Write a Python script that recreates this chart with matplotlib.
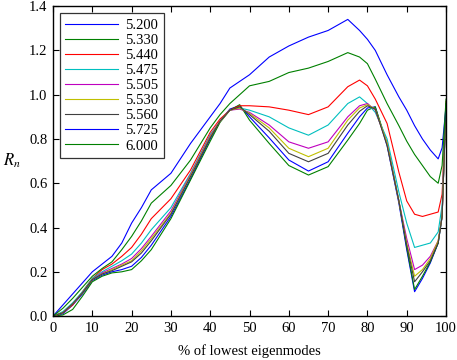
import matplotlib
matplotlib.use("Agg")
import matplotlib.pyplot as plt

plt.rcParams['font.family'] = ['Liberation Serif', 'DejaVu Serif']
plt.rcParams['mathtext.fontset'] = 'stix'

x = [0, 2.5, 5, 7.5, 10, 12.5, 15, 17.5, 20, 22.5, 25, 30, 35, 40, 42.5, 45, 47.5,
     50, 55, 60, 65, 70, 75, 78, 80, 82, 85, 88, 90, 92, 94, 96, 98, 99, 100]

labels = ["5.200", "5.330", "5.440", "5.475", "5.505", "5.530", "5.560", "5.725", "6.000"]

r_5200 = [0, 0.01, 0.05, 0.10, 0.16, 0.185, 0.20, 0.21, 0.225, 0.265, 0.32, 0.45, 0.62, 0.80, 0.88, 0.935, 0.95,
          0.90, 0.805, 0.705, 0.655, 0.697, 0.826, 0.90, 0.94, 0.945, 0.77, 0.51, 0.30, 0.11, 0.17, 0.24, 0.33, 0.45, 0.96]
r_5330 = [0, 0.005, 0.03, 0.09, 0.155, 0.18, 0.195, 0.20, 0.21, 0.25, 0.30, 0.44, 0.615, 0.79, 0.875, 0.93, 0.955,
          0.885, 0.78, 0.68, 0.637, 0.675, 0.795, 0.87, 0.93, 0.945, 0.78, 0.52, 0.31, 0.12, 0.18, 0.245, 0.33, 0.45, 0.95]
r_5440 = [0, 0.015, 0.05, 0.11, 0.17, 0.21, 0.235, 0.27, 0.31, 0.37, 0.44, 0.53, 0.66, 0.83, 0.89, 0.93, 0.95,
          0.95, 0.945, 0.93, 0.91, 0.945, 1.036, 1.066, 1.04, 0.98, 0.87, 0.65, 0.52, 0.46, 0.45, 0.46, 0.47, 0.55, 0.97]
r_5475 = [0, 0.02, 0.06, 0.11, 0.17, 0.20, 0.225, 0.25, 0.28, 0.33, 0.39, 0.49, 0.645, 0.82, 0.88, 0.93, 0.94,
          0.93, 0.90, 0.85, 0.817, 0.863, 0.96, 0.99, 0.96, 0.92, 0.80, 0.56, 0.42, 0.31, 0.32, 0.33, 0.38, 0.50, 0.96]
r_5505 = [0, 0.015, 0.055, 0.105, 0.165, 0.195, 0.215, 0.235, 0.26, 0.305, 0.36, 0.475, 0.64, 0.815, 0.88, 0.93, 0.935,
          0.92, 0.863, 0.787, 0.758, 0.787, 0.90, 0.95, 0.96, 0.93, 0.78, 0.52, 0.35, 0.21, 0.23, 0.27, 0.34, 0.45, 0.96]
r_5530 = [0, 0.015, 0.055, 0.105, 0.165, 0.19, 0.21, 0.23, 0.25, 0.295, 0.35, 0.465, 0.635, 0.81, 0.88, 0.93, 0.94,
          0.915, 0.85, 0.758, 0.72, 0.758, 0.885, 0.94, 0.955, 0.935, 0.78, 0.52, 0.33, 0.18, 0.21, 0.26, 0.34, 0.45, 0.96]
r_5560 = [0, 0.015, 0.055, 0.105, 0.165, 0.19, 0.205, 0.225, 0.245, 0.285, 0.34, 0.46, 0.63, 0.805, 0.88, 0.93, 0.945,
          0.91, 0.835, 0.735, 0.697, 0.735, 0.863, 0.925, 0.95, 0.935, 0.77, 0.52, 0.32, 0.155, 0.20, 0.25, 0.33, 0.45, 0.96]
r_5725 = [0, 0.05, 0.10, 0.15, 0.20, 0.235, 0.27, 0.33, 0.42, 0.49, 0.57, 0.645, 0.78, 0.90, 0.96, 1.03, 1.06,
          1.09, 1.17, 1.22, 1.26, 1.29, 1.34, 1.29, 1.25, 1.20, 1.09, 0.99, 0.93, 0.86, 0.80, 0.75, 0.71, 0.76, 0.95]
r_6000 = [0, 0.035, 0.08, 0.13, 0.18, 0.215, 0.245, 0.30, 0.36, 0.43, 0.51, 0.59, 0.705, 0.85, 0.91, 0.96, 1.00,
          1.04, 1.06, 1.10, 1.12, 1.15, 1.19, 1.17, 1.14, 1.07, 0.96, 0.86, 0.79, 0.73, 0.68, 0.63, 0.60, 0.68, 0.98]

series = [r_5200, r_5330, r_5440, r_5475, r_5505, r_5530, r_5560, r_5725, r_6000]
colors = ['#0000ff', '#008000', '#ff0000', '#00bfbf', '#bf00bf', '#bfbf00', '#404040', '#0000ff', '#008000']

fig = plt.figure(figsize=(4.57, 3.6), dpi=100)
ax = fig.add_axes([0.116, 0.122, 0.86, 0.861])

for ys, c, lab in zip(series, colors, labels):
    ax.plot(x, ys, color=c, lw=0.8, label=lab)

ax.set_xlim(0, 100)
ax.set_ylim(0, 1.4)
ax.set_xticks(range(0, 101, 10))
ax.set_yticks([0, 0.2, 0.4, 0.6, 0.8, 1.0, 1.2, 1.4])
ax.set_yticklabels(["0.0", "0.2", "0.4", "0.6", "0.8", "1.0", "1.2", "1.4"])
ax.tick_params(direction='in', top=True, right=True, length=4, width=0.8, labelsize=10.5, pad=4)
for s in ax.spines.values():
    s.set_linewidth(1.0)

ax.set_xlabel("% of lowest eigenmodes", fontsize=10.5, labelpad=7)
ax.set_ylabel("$R_n$", fontsize=12, rotation=0, labelpad=12, va='center')

leg = ax.legend(loc='upper left', fontsize=10.5, frameon=True, fancybox=False,
                edgecolor='black', handlelength=3.6, labelspacing=0.13,
                borderaxespad=0.45, handletextpad=0.5, borderpad=0.4)
leg.get_frame().set_linewidth(0.9)

fig.savefig("out.png", dpi=100)
